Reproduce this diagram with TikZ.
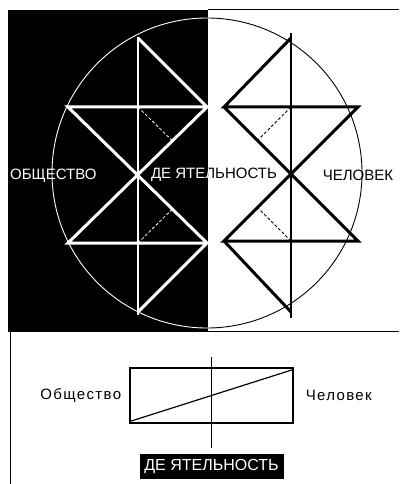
\documentclass[tikz,border=0pt]{standalone}
\usepackage{fontspec}
\setmainfont{Liberation Sans}
\newfontfamily\spacedfont[LetterSpace=9]{Liberation Sans}
\usetikzlibrary{positioning}

\begin{document}
\begin{tikzpicture}[x=1pt, y=-1pt,
  figline/.style={line width=3pt, line join=miter},
  axisline/.style={line width=2.2pt},
  helpline/.style={line width=0.8pt, dash pattern=on 3pt off 2pt},
  thinline/.style={line width=1.2pt},
  caps/.style={font=\fontsize{15}{15}\selectfont, inner sep=0pt},
  lowtext/.style={font=\spacedfont\fontsize{15}{15}\selectfont, inner sep=0pt}]
\useasboundingbox (0,0) rectangle (399,484);

% Black half
\fill[black] (8,10) rectangle (208,331);

% Frame lines
\draw[line width=1pt] (208,10) -- (399,10);
\draw[line width=1pt] (8,331) -- (399,331);
\draw[line width=1pt] (10,331) -- (10,484);

% Circle (black part)
\draw[line width=0.9pt] (207,173) circle (155pt);

% Right figure (black)
\draw[axisline] (291,33) -- (291,318);
\draw[figline] (291,38) -- (224,107) -- (358,107) -- (224,241) -- (358,241) -- (224,107);
\draw[figline] (224,241) -- (291,312);
\draw[helpline] (291,107) -- (257.5,140.5);
\draw[helpline] (291,241) -- (257.5,207.5);

% Labels
\node[caps, white, anchor=west] (soc) at (10,176) {ОБЩЕСТВО};
\node[caps] (act) at (214,175) {ДЕ ЯТЕЛЬНОСТЬ};
\node[caps] (man) at (358,175) {ЧЕЛОВЕК};

% White parts inside the black half
\begin{scope}
\clip (8,10) rectangle (208,331);
\draw[white, line width=0.9pt] (207,173) circle (155pt);
\node[caps, white] (actw) at (act) {ДЕ ЯТЕЛЬНОСТЬ};
\end{scope}

% Left figure (white)
\draw[axisline, white] (138,37) -- (138,315);
\draw[figline, white] (138,312) -- (207,243) -- (68,243) -- (207,107) -- (68,107) -- (207,243);
\draw[figline, white] (207,107) -- (138,38);
\draw[helpline, white] (138,107) -- (172.5,141);
\draw[helpline, white] (138,243) -- (172.5,209);

% Lower scheme
\node[draw, thinline, minimum width=163pt, minimum height=55pt, inner sep=0pt] (rel) at (211.5,395.5) {};
\node[lowtext, left=8pt of rel] (soc2) {Общество};
\node[lowtext, right=12pt of rel] (man2) {Человек};
\node[fill=black, text=white, font=\fontsize{16}{16}\selectfont, minimum width=144pt, minimum height=25pt, inner sep=0pt, below=30pt of rel] (act2) {ДЕ ЯТЕЛЬНОСТЬ};
\draw[thinline] ([yshift=10pt]rel.north) -- ([yshift=6pt]act2.north);
\draw[thinline] ([yshift=2pt]rel.south west) -- ([yshift=-2pt]rel.north east);

\end{tikzpicture}
\end{document}
